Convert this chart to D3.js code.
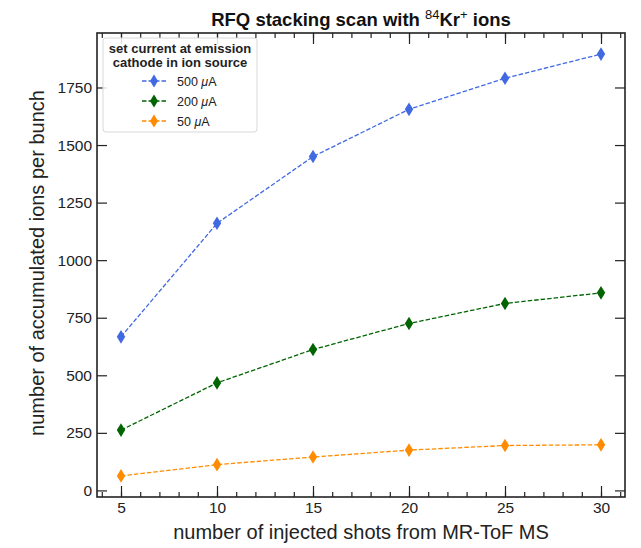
<!DOCTYPE html>
<meta charset="utf-8">
<script src="https://d3js.org/d3.v7.min.js"></script>
<style>
  body { margin: 0; background: #fff; }
  text { font-family: "Liberation Sans", Arial, sans-serif; }
</style>
<body>
<div id="chart"></div>
<script>
// data
var shots = [5, 10, 15, 20, 25, 30];
var ions500 = [667, 1160, 1450, 1655, 1790, 1895];
var ions200 = [262, 467, 612, 725, 812, 858];
var ions50 = [63, 112, 145, 175, 195, 198];
var seriesNames = ["500 \u03BCA", "200 \u03BCA", "50 \u03BCA"];
var seriesColors = ["#4169e1", "#006400", "#ff8c00"];
var xTicks = [5, 10, 15, 20, 25, 30];
var yTicks = [0, 250, 500, 750, 1000, 1250, 1500, 1750];

var series = [ions500, ions200, ions50];

var W = 641, H = 548;
var margin = {top: 33, right: 16, bottom: 51, left: 97};
var width = W - margin.left - margin.right,
    height = H - margin.top - margin.bottom;

var svg = d3.select("#chart").append("svg")
    .attr("width", W).attr("height", H);
var g = svg.append("g")
    .attr("transform", "translate(" + margin.left + "," + margin.top + ")");

// matplotlib style 5% margins
var xmin = d3.min(shots), xmax = d3.max(shots);
var xpad = (xmax - xmin) * 0.05;
var all = [].concat(ions500, ions200, ions50);
var ymin = d3.min(all), ymax = d3.max(all);
var ypad = (ymax - ymin) * 0.05;

var x = d3.scaleLinear().domain([xmin - xpad, xmax + xpad]).range([0, width]);
var y = d3.scaleLinear().domain([ymin - ypad, ymax + ypad]).range([height, 0]);

// axes (ticks pointing inward)
var xMinor = d3.range(4, 32);
function drawX(axisFn, ty, withLabels) {
  var a = g.append("g").attr("transform", "translate(0," + ty + ")");
  a.call(axisFn(x).tickValues(xMinor).tickSize(-5).tickFormat(""));
  var b = g.append("g").attr("transform", "translate(0," + ty + ")");
  b.call(axisFn(x).tickValues(xTicks).tickSize(-11)
      .tickPadding(5).tickFormat(withLabels ? d3.format("d") : ""));
  [a, b].forEach(function(s) {
    s.select(".domain").remove();
    s.selectAll("line").attr("stroke", "#222").attr("stroke-width", 1.2);
  });
  b.selectAll("text").attr("font-size", 15.5).attr("fill", "#222");
}
drawX(d3.axisBottom, height, true);
drawX(d3.axisTop, 0, false);

var yl = g.append("g").call(d3.axisLeft(y).tickValues(yTicks).tickSize(-10)
  .tickPadding(5).tickFormat(d3.format("d")));
var yr = g.append("g").attr("transform", "translate(" + width + ",0)")
  .call(d3.axisRight(y).tickValues(yTicks).tickSize(-10).tickFormat(""));
[yl, yr].forEach(function(s) {
  s.select(".domain").remove();
  s.selectAll("line").attr("stroke", "#222").attr("stroke-width", 1.2);
});
yl.selectAll("text").attr("font-size", 15.5).attr("fill", "#222");

// frame
g.append("rect").attr("width", width).attr("height", height)
  .attr("fill", "none").attr("stroke", "#222").attr("stroke-width", 1.6);

// lines and markers
var line = d3.line().x(function(d, i) { return x(shots[i]); }).y(function(d) { return y(d); });
function diamond(sel, w, h) {
  sel.attr("d", "M0," + (-h) + "L" + w + ",0L0," + h + "L" + (-w) + ",0Z");
}
series.forEach(function(vals, k) {
  g.append("path").datum(vals).attr("d", line)
    .attr("fill", "none").attr("stroke", seriesColors[k])
    .attr("stroke-width", 1.3).attr("stroke-dasharray", "4.5,2");
  g.selectAll(".m" + k).data(vals).enter().append("path")
    .attr("class", "m" + k)
    .attr("transform", function(d, i) { return "translate(" + x(shots[i]) + "," + y(d) + ")"; })
    .call(diamond, 4.2, 6.8)
    .attr("fill", seriesColors[k]);
});

// title
svg.append("text").attr("x", margin.left + width / 2).attr("y", 26)
  .attr("text-anchor", "middle").attr("font-size", 18.5).attr("font-weight", "bold")
  .attr("fill", "#111")
  .html('RFQ stacking scan with <tspan dy="-7" font-size="13" font-weight="normal">84</tspan><tspan dy="7">Kr</tspan><tspan dy="-7" font-size="13" font-weight="normal">+</tspan><tspan dy="7"> ions</tspan>');

// axis labels
svg.append("text").attr("x", margin.left + width / 2).attr("y", 539)
  .attr("text-anchor", "middle").attr("font-size", 20).attr("fill", "#222")
  .text("number of injected shots from MR-ToF MS");
svg.append("text")
  .attr("transform", "translate(44," + (margin.top + height / 2 - 2) + ") rotate(-90)")
  .attr("text-anchor", "middle").attr("font-size", 20).attr("fill", "#222")
  .text("number of accumulated ions per bunch");

// legend
var lg = svg.append("g").attr("transform", "translate(103,38)");
lg.append("rect").attr("width", 154).attr("height", 94).attr("rx", 3)
  .attr("fill", "#fff").attr("fill-opacity", 0.85)
  .attr("stroke", "#d8d8d8").attr("stroke-width", 1);
lg.selectAll(".lt").data(["set current at emission", "cathode in ion source"]).enter()
  .append("text").attr("x", 77).attr("y", function(d, i) { return 15 + i * 14; })
  .attr("text-anchor", "middle").attr("font-size", 13).attr("font-weight", "bold")
  .attr("fill", "#222").text(function(d) { return d; });
seriesNames.forEach(function(name, k) {
  var ry = 43 + k * 20;
  lg.append("line").attr("x1", 39).attr("x2", 64).attr("y1", ry).attr("y2", ry)
    .attr("stroke", seriesColors[k]).attr("stroke-width", 1.3).attr("stroke-dasharray", "4.5,2");
  lg.append("path").attr("transform", "translate(51," + ry + ")")
    .call(diamond, 4, 6.5).attr("fill", seriesColors[k]);
  var t = lg.append("text").attr("x", 74).attr("y", ry + 4.5)
    .attr("font-size", 12.5).attr("fill", "#222");
  var parts = name.split(" ");
  t.append("tspan").text(parts[0] + " ");
  t.append("tspan").attr("font-style", "italic").text("\u03BC");
  t.append("tspan").text("A");
});
</script>
</body>
